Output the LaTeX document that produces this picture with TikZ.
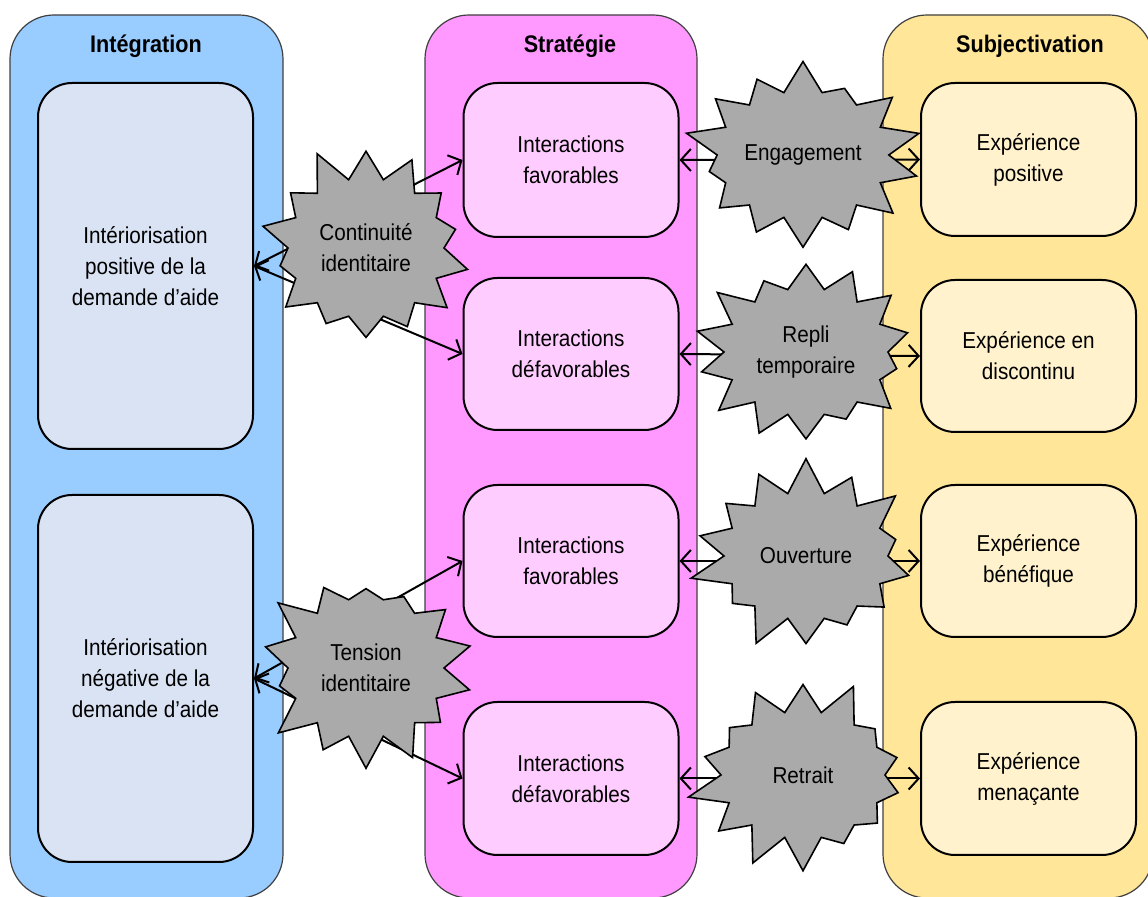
\documentclass[tikz,border=0pt]{standalone}
\usepackage{fontspec}
\setmainfont{Liberation Sans}[FakeStretch=0.9]
\usetikzlibrary{shapes.symbols,arrows.meta}

\definecolor{integcol}{HTML}{99CCFF}
\definecolor{stratcol}{HTML}{FF99FF}
\definecolor{subjcol}{HTML}{FFE699}
\definecolor{integbox}{HTML}{DAE3F3}
\definecolor{stratbox}{HTML}{FFCCFF}
\definecolor{subjbox}{HTML}{FFF2CC}
\definecolor{burstgray}{HTML}{AAAAAA}

\begin{document}
\begin{tikzpicture}[x=0.5pt,y=-0.5pt,
    every node/.style={font=\fontsize{11.5}{15.5}\selectfont, align=center},
    col/.style={rectangle, rounded corners=22pt, draw=black!75, line width=0.6pt},
    box/.style={rectangle, rounded corners=17pt, draw=black, line width=1pt, minimum width=107.5pt},
    title/.style={font=\fontsize{12}{14}\selectfont\bfseries},
    burst/.style={starburst, draw=black, line width=0.8pt, fill=burstgray, starburst points=14,
      starburst point height=18pt, minimum width=114pt, minimum height=106pt, inner sep=1pt},
    link/.style={{Straight Barb[length=5pt,width=11pt]}-{Straight Barb[length=5pt,width=11pt]}, line width=1pt}
  ]
    \useasboundingbox (0,0) rectangle (1148,897);
    \clip (0,0) rectangle (1148,897);

    % 列
    \node[col, fill=integcol, minimum width=136.5pt, minimum height=441.5pt] (integ) at (146.5,456.5) {};
    \node[col, fill=stratcol, minimum width=136pt, minimum height=441.5pt] (strat) at (561,456.5) {};
    \node[col, fill=subjcol, minimum width=135pt, minimum height=441.5pt] (subj) at (1018,456.5) {};

    \node[title] (tinteg) at (146,46) {Intégration};
    \node[title] (tstrat) at (570,46) {Stratégie};
    \node[title] (tsubj) at (1030,46) {Subjectivation};

    % 箱
    \node[box, fill=integbox, minimum height=183pt] (intpos) at (145.5,266) {Intériorisation\\positive de la\\demande d'aide};
    \node[box, fill=integbox, minimum height=183.5pt] (intneg) at (145.5,678.5) {Intériorisation\\négative de la\\demande d'aide};

    \node[box, fill=stratbox, minimum height=77pt] (fav1) at (571,160) {Interactions\\favorables};
    \node[box, fill=stratbox, minimum height=76pt] (def1) at (571,354) {Interactions\\défavorables};
    \node[box, fill=stratbox, minimum height=76pt] (fav2) at (571,561) {Interactions\\favorables};
    \node[box, fill=stratbox, minimum height=76.5pt] (def2) at (571,778.5) {Interactions\\défavorables};

    \node[box, fill=subjbox, minimum height=76.5pt] (exppos) at (1028.5,159.5) {Expérience\\positive};
    \node[box, fill=subjbox, minimum height=76pt] (expdisc) at (1028.5,356) {Expérience en\\discontinu};
    \node[box, fill=subjbox, minimum height=76pt] (expben) at (1028.5,561) {Expérience\\bénéfique};
    \node[box, fill=subjbox, minimum height=76.5pt] (expmen) at (1028.5,778.5) {Expérience\\menaçante};

    % 線を引く
    \draw[link] (intpos.east) -- (fav1.west);
    \draw[link] (intpos.east) -- (def1.west);
    \draw[link] (intneg.east) -- (fav2.west);
    \draw[link] (intneg.east) -- (def2.west);
    \draw[link] (fav1.east) -- (exppos.west);
    \draw[link] (def1.east) -- (expdisc.west);
    \draw[link] (fav2.east) -- (expben.west);
    \draw[link] (def2.east) -- (expmen.west);

    % 爆発
    \node[burst, random starburst=11] (cont) at (366,248) {Continuité\\identitaire};
    \node[burst, random starburst=23] (tens) at (366,668) {Tension\\identitaire};
    \node[burst, random starburst=37, minimum width=118pt, minimum height=100pt] (eng) at (803,155) {Engagement};
    \node[burst, random starburst=41, minimum width=118pt, minimum height=100pt] (repli) at (806,352) {Repli\\temporaire};
    \node[burst, random starburst=53, minimum width=118pt, minimum height=100pt] (ouv) at (806,556) {Ouverture};
    \node[burst, random starburst=67, minimum width=118pt, minimum height=100pt] (retr) at (803,775) {Retrait};

  \end{tikzpicture}
\end{document}
